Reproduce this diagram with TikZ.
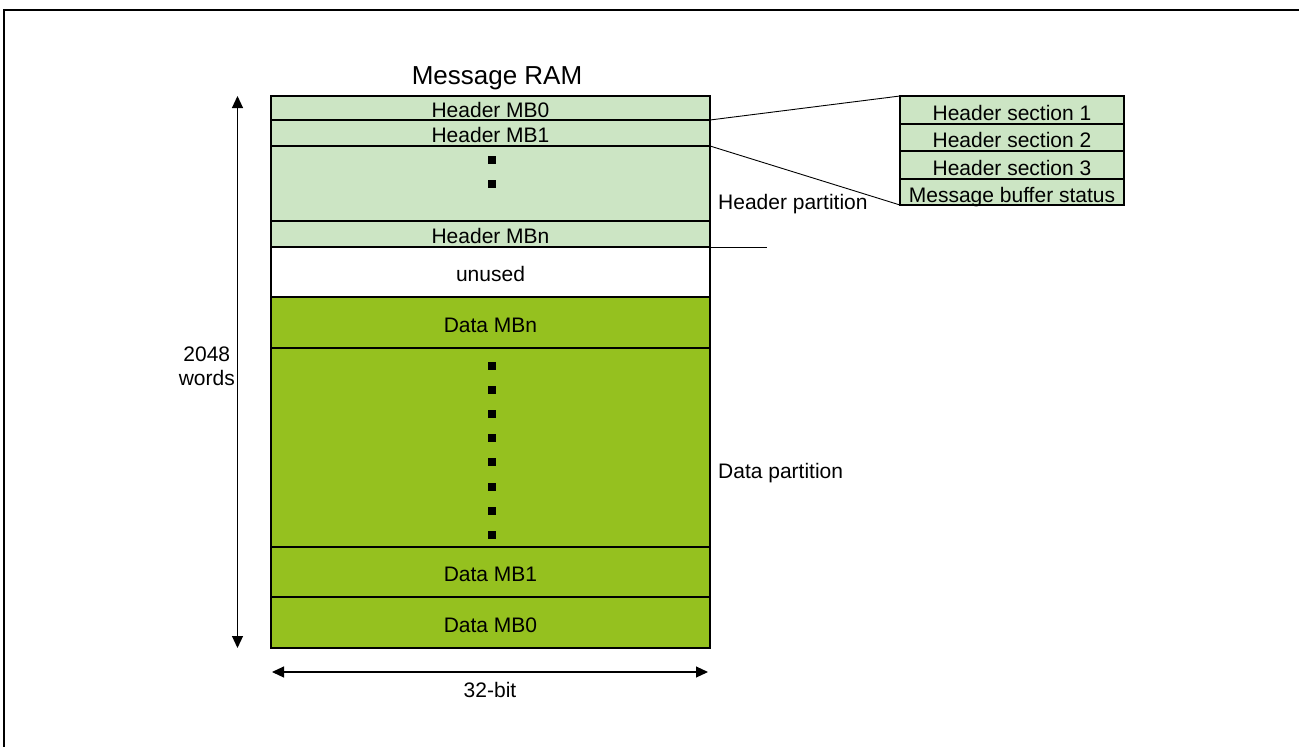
\documentclass[tikz,border=0pt]{standalone}
\usepackage{fontspec}
\setmainfont{Liberation Sans}
\usetikzlibrary{arrows.meta,positioning}
\definecolor{HdrGreen}{HTML}{CCE5C4}
\definecolor{DataGreen}{HTML}{95C11F}
\definecolor{Ink}{HTML}{000000}
\tikzset{
  ramrow/.style={
    draw=Ink, line width=1.6pt, outer sep=0pt, inner sep=0pt,
    minimum width=439pt, anchor=north, font=\fontsize{21}{24}\selectfont,
    text height=19pt, text depth=0pt
  },
  hdrrow/.style={ramrow, fill=HdrGreen},
  datarow/.style={ramrow, fill=DataGreen},
  secrow/.style={
    draw=Ink, line width=1.6pt, outer sep=0pt, inner sep=0pt, fill=HdrGreen,
    minimum width=224pt, anchor=north, font=\fontsize{21}{24}\selectfont,
    text height=20pt, text depth=0pt
  },
  label/.style={inner sep=0pt, font=\fontsize{21}{24}\selectfont},
  zoomline/.style={draw=Ink, line width=0.9pt},
  dimarrow/.style={{Triangle[length=12pt,width=11pt]}-{Triangle[length=12pt,width=11pt]}, line width=1.1pt, draw=Ink}
}

\begin{document}
\begin{tikzpicture}[x=1pt,y=-1pt]
        \useasboundingbox (0,0) rectangle (1299,747);
        \draw[line width=2pt] (4,747) -- (4,10) -- (1299,10);
        \node[label,font=\fontsize{26}{30}\selectfont] (title) at (497,78) {Message RAM};
        \node[hdrrow,minimum height=24pt] (hmb0) at (490.5,96) {Header MB0};
        \node[hdrrow,minimum height=26pt,below=0pt of hmb0] (hmb1) {Header MB1};
        \node[hdrrow,minimum height=75pt,below=0pt of hmb1] (hdots) {};
        \node[hdrrow,minimum height=26pt,below=0pt of hdots] (hmbn) {Header MBn};
        \node[ramrow,fill=white,minimum height=50pt,below=0pt of hmbn] (unused) {unused};
        \node[datarow,minimum height=51pt,below=0pt of unused] (dmbn) {Data MBn};
        \node[datarow,minimum height=199pt,below=0pt of dmbn] (ddots) {};
        \node[datarow,minimum height=50pt,below=0pt of ddots] (dmb1) {Data MB1};
        \node[datarow,minimum height=51pt,below=0pt of dmb1] (dmb0) {Data MB0};
        \foreach \y in {160,184}
          \fill[Ink] (488,\y-4) rectangle +(8,8);
        \foreach \i in {0,...,7}
          \fill[Ink] (488,362+24.1*\i) rectangle +(8,8);
        \node[secrow,minimum height=28pt] (sec1) at (1012,96) {Header section 1};
        \node[secrow,minimum height=27pt,below=0pt of sec1] (sec2) {Header section 2};
        \node[secrow,minimum height=28pt,below=0pt of sec2] (sec3) {Header section 3};
        \node[secrow,minimum height=26pt,below=0pt of sec3] (mbs) {Message buffer status};
        \draw[zoomline] (hmb0.south east) -- (sec1.north west);
        \draw[zoomline] (hmb1.south east) -- (mbs.south west);
        \coordinate (hpend) at (767,247);
        \draw[zoomline] (hmbn.south east) -- (hpend);
        \node[label,anchor=west] (hpart) at (718,204) {Header partition};
        \node[label,anchor=west] (dpart) at (718,473) {Data partition};
        \coordinate (vtop) at (237.5,96);
        \coordinate (vbot) at (237.5,648);
        \draw[dimarrow] (vtop) -- (vbot);
        \node[label,align=center,anchor=east] (words) at (235,366) {2048\\words};
        \coordinate (hleft) at (272,672);
        \coordinate (hright) at (708,672);
        \draw[dimarrow] (hleft) -- (hright);
        \node[label] (bits) at (490,690) {32-bit};
      \end{tikzpicture}
\end{document}
